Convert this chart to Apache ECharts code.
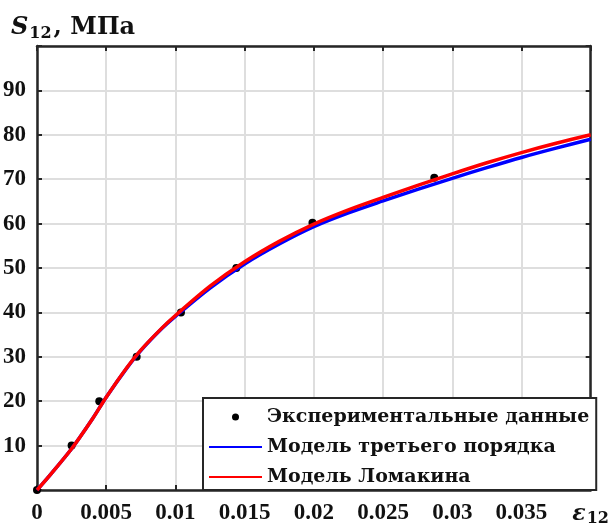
<!DOCTYPE html>
<html>
<head>
<meta charset="utf-8">
<script src="https://cdn.jsdelivr.net/npm/echarts@6/dist/echarts.min.js"></script>
<style>
  html, body { margin: 0; padding: 0; background: #fff; }
  #chart { width: 612px; height: 530px; }
</style>
</head>
<body>
<div id="chart"></div>
<script>
// Shear stress S12 (MPa) versus shear strain e12

// Experimental points
const expStrain = [0, 0.0025, 0.0045, 0.0072, 0.0104, 0.0144, 0.0199, 0.0287];
const expStress = [0, 10, 20, 30, 40, 50, 60.2, 70.3];

// Model curves sampled along the strain axis
const modelStrain = [0, 0.001, 0.0025, 0.004, 0.005, 0.0065, 0.0075, 0.009, 0.01,
  0.0125, 0.015, 0.0175, 0.02, 0.0225, 0.025, 0.0275, 0.03, 0.0325, 0.035, 0.0375, 0.04];
const thirdOrderStress = [0, 3.6, 9.3, 16.0, 20.9, 27.5, 31.4, 36.3, 39.1,
  45.5, 50.9, 55.4, 59.3, 62.4, 65.1, 67.7, 70.2, 72.6, 74.9, 77.0, 79.0];
const lomakinStress = [0, 3.6, 9.3, 16.0, 20.9, 27.6, 31.5, 36.4, 39.3,
  45.9, 51.4, 56.0, 59.9, 63.1, 65.9, 68.6, 71.2, 73.7, 76.0, 78.1, 80.0];

const seriesNames = ['Экспериментальные данные', 'Модель третьего порядка', 'Модель Ломакина'];

const xMin = 0, xMax = 0.04, xStep = 0.005;
const yMin = 0, yMax = 100, yStep = 10;

const zip = (xs, ys) => xs.map((x, i) => [x, ys[i]]);

const serif = 'Liberation Serif';
const wideSerif = 'DejaVu Serif';
const axisColor = '#262626';
const gridColor = '#dedede';

const chart = echarts.init(document.getElementById('chart'), null, { renderer: 'canvas' });

const tickStyle = { inside: true, length: 5, lineStyle: { color: axisColor, width: 2 } };
const axisLineStyle = { show: true, onZero: false, lineStyle: { color: axisColor, width: 2.5 } };
// line legend entries show only the stroke
const hiddenMarker = { opacity: 0 };

chart.setOption({
  animation: false,
  backgroundColor: '#fff',
  title: {
    left: 11, top: 13, padding: 0,
    text: '{s|S}{sub|12}{t|, МПа}',
    textStyle: {
      rich: {
        s: { fontFamily: wideSerif, fontStyle: 'italic', fontWeight: 'bold', fontSize: 24, lineHeight: 30, color: '#111' },
        sub: { fontFamily: wideSerif, fontWeight: 'bold', fontSize: 16, lineHeight: 30, padding: [12, 2, 0, 1], color: '#111' },
        t: { fontFamily: wideSerif, fontWeight: 'bold', fontSize: 24, lineHeight: 30, color: '#111' }
      }
    }
  },
  grid: { left: 35, right: 17, top: 46, bottom: 40, containLabel: false },
  xAxis: [{
    type: 'value', min: xMin, max: xMax, interval: xStep,
    axisLine: axisLineStyle, axisTick: tickStyle,
    splitLine: { show: true, lineStyle: { color: gridColor, width: 2 } },
    axisLabel: {
      margin: 12, color: '#111', fontFamily: serif, fontWeight: 'bold', fontSize: 23,
      showMaxLabel: true,
      formatter: v => {
        if (v >= xMax - 1e-9) return '{e|ε}{sub|12}';
        if (v === 0) return '0';
        return String(+v.toFixed(3));
      },
      rich: {
        e: { fontFamily: wideSerif, fontStyle: 'italic', fontSize: 22, color: '#111' },
        sub: { fontFamily: wideSerif, fontSize: 16, padding: [9, 0, 0, 1], color: '#111' }
      }
    }
  }, {
    type: 'value', position: 'top', min: xMin, max: xMax, interval: xStep,
    axisLine: axisLineStyle, axisTick: tickStyle,
    splitLine: { show: false }, axisLabel: { show: false }
  }],
  yAxis: [{
    type: 'value', min: yMin, max: yMax, interval: yStep,
    axisLine: axisLineStyle, axisTick: tickStyle,
    splitLine: { show: true, lineStyle: { color: gridColor, width: 2 } },
    axisLabel: {
      margin: 11, color: '#111', fontFamily: serif, fontWeight: 'bold', fontSize: 23,
      formatter: v => (v === yMin || v === yMax) ? '' : String(v)
    }
  }, {
    type: 'value', position: 'right', min: yMin, max: yMax, interval: yStep,
    axisLine: axisLineStyle, axisTick: tickStyle,
    splitLine: { show: false }, axisLabel: { show: false }
  }],
  legend: {
    orient: 'vertical', left: 203, top: 398,
    padding: [8, 7, 2, 5], itemWidth: 53, itemHeight: 7, itemGap: 8,
    borderColor: axisColor, borderWidth: 2, borderRadius: 0, backgroundColor: '#fff',
    selectedMode: false,
    textStyle: { fontFamily: wideSerif, fontWeight: 'bold', fontSize: 19, lineHeight: 22, color: '#111' },
    data: [
      { name: seriesNames[0], icon: 'circle', itemStyle: { color: '#000', opacity: 1 } },
      { name: seriesNames[1], itemStyle: hiddenMarker },
      { name: seriesNames[2], itemStyle: hiddenMarker }
    ]
  },
  series: [{
    name: seriesNames[1], type: 'line', smooth: 0.3,
    data: zip(modelStrain, thirdOrderStress),
    symbol: 'none', showSymbol: false,
    lineStyle: { color: '#0000ff', width: 3.5 }, itemStyle: { color: '#0000ff' }, z: 3
  }, {
    name: seriesNames[2], type: 'line', smooth: 0.3,
    data: zip(modelStrain, lomakinStress),
    symbol: 'none', showSymbol: false,
    lineStyle: { color: '#ff0000', width: 3.5 }, itemStyle: { color: '#ff0000' }, z: 4
  }, {
    name: seriesNames[0], type: 'scatter',
    data: zip(expStrain, expStress),
    symbol: 'circle', symbolSize: 8,
    itemStyle: { color: '#000', opacity: 1 }, z: 2
  }]
});
</script>
</body>
</html>
